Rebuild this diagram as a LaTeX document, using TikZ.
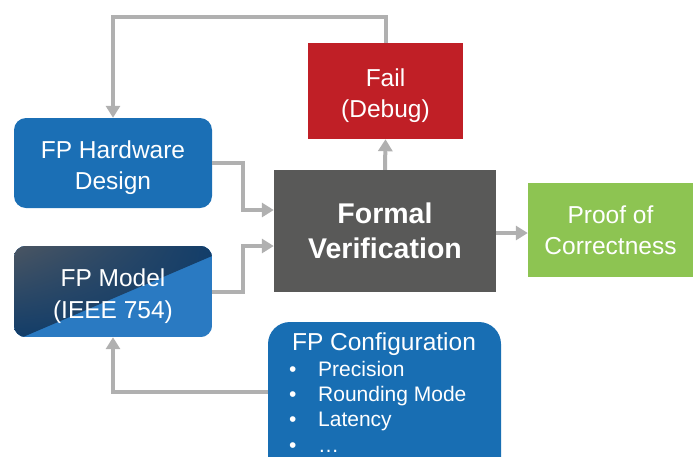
\documentclass[tikz,border=0pt]{standalone}
\usepackage{fontspec}
\setmainfont{Liberation Sans}
\usetikzlibrary{arrows.meta,backgrounds,shadings}
\definecolor{hwblue}{HTML}{1B6FB5}
\definecolor{cfgblue}{HTML}{186EB3}
\definecolor{mdlblue}{HTML}{2A7AC2}
\definecolor{mdlnavy}{HTML}{123D69}
\definecolor{mdlgray}{HTML}{4A5562}
\definecolor{fvgray}{HTML}{595958}
\definecolor{failred}{HTML}{C01F26}
\definecolor{proofgreen}{HTML}{8DC452}
\definecolor{conngray}{HTML}{B0B0B0}
% taller first line, to sit two-line labels a little lower
\newcommand{\firststrut}{\rule{0pt}{27pt}}
\tikzset{
  box/.style={inner sep=0pt, text=white, align=center,
    font=\fontsize{24.5}{31.5}\selectfont},
  conn/.style={draw=conngray, line width=4pt,
    -{Triangle[length=12pt,width=14pt]}},
  itemtext/.style={anchor=base west, text=white, inner sep=0pt,
    font=\fontsize{21}{25}\selectfont},
}
\begin{document}
\begin{tikzpicture}[x=1pt,y=-1pt]
\useasboundingbox (0,0) rectangle (693,456);

% process boxes
\node[box, fill=hwblue, rounded corners=12pt, minimum width=198pt, minimum height=90pt]
  (hw) at (113,163) {\firststrut FP Hardware\\Design};
\node[box, minimum width=198pt, minimum height=91pt]
  (model) at (113,291.5) {\firststrut FP Model\\(IEEE 754)};
\node[box, fill=fvgray, minimum width=222pt, minimum height=122pt,
  font=\fontsize{28.5}{35}\selectfont\bfseries]
  (fv) at (385,231) {Formal\\Verification};
\node[box, fill=failred, minimum width=155pt, minimum height=96pt]
  (fail) at (385.5,91) {\firststrut Fail\\(Debug)};
\node[box, fill=proofgreen, minimum width=165pt, minimum height=94pt]
  (proof) at (610.5,230) {Proof of\\Correctness};
\node[box, fill=cfgblue, rounded corners=22pt, minimum width=233pt, minimum height=158pt]
  (cfg) at (384.5,401) {};

% two-tone fill of the model box
\begin{scope}[on background layer]
  \clip[rounded corners=12pt] (model.north west) rectangle (model.south east);
  \fill[mdlblue] (model.north west) rectangle (model.south east);
  \shade[upper left=mdlgray, upper right=mdlnavy, lower left=mdlnavy, lower right=mdlnavy]
    (14,246) -- (212,246) -- (212,256) -- (23,337) -- (14,337) -- cycle;
\end{scope}

% configuration contents
\node[anchor=base, text=white, inner sep=0pt, font=\fontsize{24.5}{30}\selectfont]
  (cfgtitle) at (384,350) {FP Configuration};
\node[itemtext] (it1) at (289,376) {\makebox[29pt][l]{•}Precision};
\node[itemtext] (it2) at (289,401) {\makebox[29pt][l]{•}Rounding Mode};
\node[itemtext] (it3) at (289,426) {\makebox[29pt][l]{•}Latency};
\node[itemtext] (it4) at (289,452) {\makebox[29pt][l]{•}…};

% connectors
\draw[conn] (fail.north) -- ++(0,-26) -| (hw.north);
\draw[conn] (hw.east) -- ++(31,0) |- ([yshift=21pt]fv.west);
\draw[conn] (model.east) -- ++(31,0) |- ([yshift=-15pt]fv.west);
\draw[conn] (fv.north) -- (fail.south);
\draw[conn] ([yshift=-2pt]fv.east) -- ([yshift=-2pt]fv.east -| proof.west);
\draw[conn] ([yshift=9pt]cfg.west) -| (model.south);
\end{tikzpicture}
\end{document}
